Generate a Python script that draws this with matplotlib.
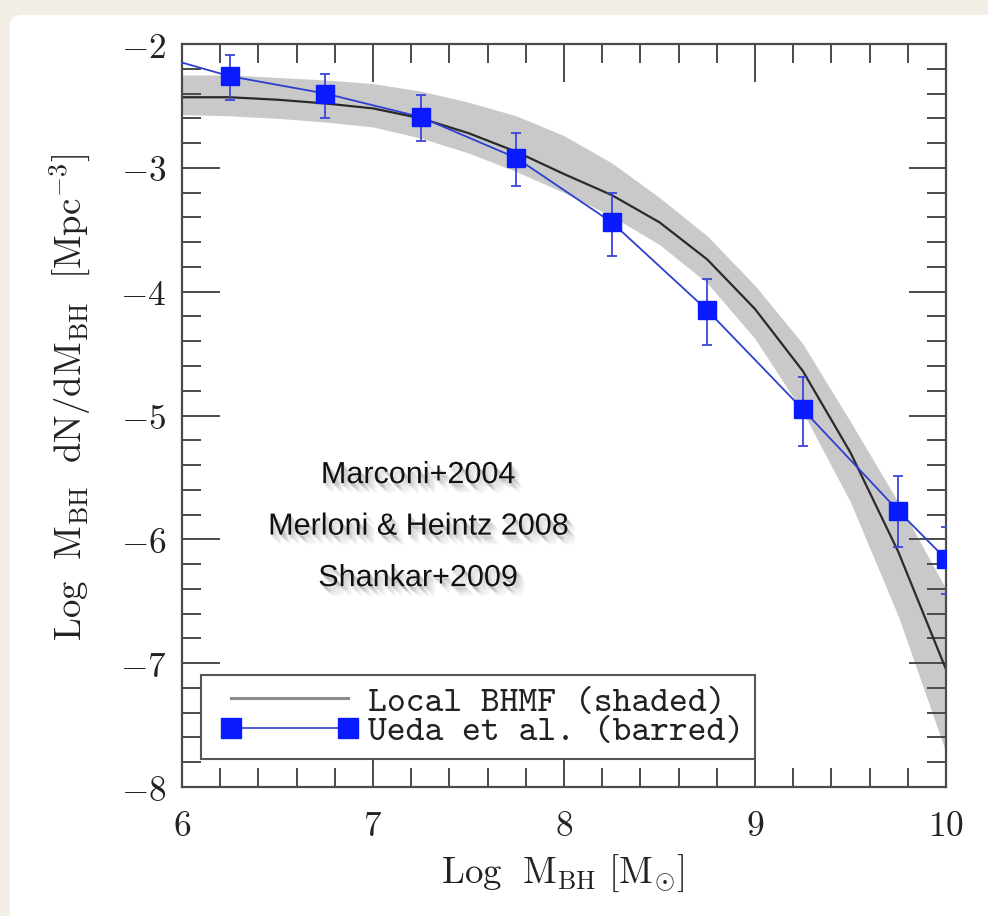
import matplotlib
matplotlib.use("Agg")
import matplotlib.pyplot as plt
import matplotlib.patheffects as pe
from matplotlib.patches import FancyBboxPatch
from matplotlib.lines import Line2D
from matplotlib.legend_handler import HandlerLine2D
from matplotlib.ticker import MultipleLocator, FuncFormatter

plt.rcParams['mathtext.fontset'] = 'cm'

# ---- data ----
# Local BHMF (black curve) and shaded uncertainty band
bhmf_logm = [6.00, 6.25, 6.50, 6.75, 7.00, 7.25, 7.50, 7.75, 8.00, 8.25, 8.50,
             8.75, 9.00, 9.25, 9.50, 9.75, 10.00]
bhmf_phi = [-2.43, -2.43, -2.45, -2.48, -2.52, -2.60, -2.72, -2.87, -3.05, -3.22,
            -3.44, -3.74, -4.14, -4.64, -5.30, -6.10, -7.05]
band_upper = [-2.25, -2.25, -2.27, -2.29, -2.32, -2.38, -2.47, -2.58, -2.74, -2.96,
              -3.24, -3.55, -3.95, -4.42, -5.05, -5.70, -6.40]
band_lower = [-2.57, -2.58, -2.60, -2.63, -2.67, -2.76, -2.88, -3.03, -3.20, -3.39,
              -3.62, -3.93, -4.38, -4.97, -5.70, -6.62, -7.72]

# Ueda et al. (barred)
ueda_logm = [5.75, 6.25, 6.75, 7.25, 7.75, 8.25, 8.75, 9.25, 9.75, 10.00]
ueda_phi = [-2.04, -2.26, -2.40, -2.59, -2.92, -3.44, -4.15, -4.95, -5.77, -6.16]
ueda_err_up = [0.17, 0.17, 0.16, 0.18, 0.20, 0.24, 0.25, 0.26, 0.28, 0.26]
ueda_err_dn = [0.19, 0.19, 0.20, 0.19, 0.23, 0.27, 0.28, 0.30, 0.29, 0.28]

x_ticks = [6, 7, 8, 9, 10]
y_ticks = [-8, -7, -6, -5, -4, -3, -2]
legend_labels = ["Local BHMF (shaded)", "Ueda et al. (barred)"]
annotation_lines = ["Marconi+2004", "Merloni & Heintz 2008", "Shankar+2009"]

# ---- figure ----
W, H = 988, 916
fig = plt.figure(figsize=(W / 100, H / 100), dpi=100)
fig.patch.set_facecolor('#f3efe7')
panel = FancyBboxPatch((10 / W, -0.05), (W + 20) / W, (H - 15) / H + 0.05,
                       boxstyle="round,pad=0,rounding_size=0.012",
                       transform=fig.transFigure, facecolor='white',
                       edgecolor='none', zorder=-10)
fig.patches.append(panel)

ax = fig.add_axes([182 / W, (H - 787) / H, (946 - 182) / W, (787 - 44) / H])
ax.set_zorder(5)
ax.set_facecolor('white')

ax.fill_between(bhmf_logm, band_lower, band_upper, color='#c9c9c9', lw=0, zorder=1)
ax.plot(bhmf_logm, bhmf_phi, color='#2a2a2a', lw=1.6, zorder=2)
ax.errorbar(ueda_logm, ueda_phi, yerr=[ueda_err_dn, ueda_err_up], fmt='none',
            ecolor='#3a46d8', elinewidth=1.3, capsize=3.5, capthick=1.3, zorder=3)
ax.plot(ueda_logm, ueda_phi, color='#2e3fd0', lw=1.3, marker='s', ms=12.5,
        mfc='#0a1aff', mec='#0a1aff', zorder=4)

ax.set_xlim(6, 10)
ax.set_ylim(-8, -2)

ax.xaxis.set_minor_locator(MultipleLocator(0.2))
ax.yaxis.set_minor_locator(MultipleLocator(0.2))
ax.set_xticks(x_ticks)
ax.set_yticks(y_ticks)
ax.xaxis.set_major_formatter(FuncFormatter(lambda v, p: r'$%d$' % v))
ax.yaxis.set_major_formatter(FuncFormatter(lambda v, p: r'$%d$' % v))

tc = '#4a4a4a'
ax.tick_params(which='both', direction='in', top=True, right=True, color=tc,
               labelsize=25.5, labelcolor='#222222')
ax.tick_params(which='major', length=27, width=1.4)
ax.tick_params(which='minor', length=13.5, width=1.4)
ax.tick_params(axis='x', which='major', pad=16)
ax.tick_params(axis='y', which='major', pad=11)
for s in ax.spines.values():
    s.set_color(tc)
    s.set_linewidth(1.6)

ax.set_xlabel(r'$\mathrm{Log\ \ M_{BH}\ [M_{\odot}]}$', fontsize=26.5, color='#222222')
ax.xaxis.set_label_coords((563 - 182) / 764, (787 - 853) / 743)
ax.set_ylabel(r'$\mathrm{Log\ \ M_{BH}\ \ dN/dM_{BH}\ \ [Mpc^{-3}]}$', fontsize=26.5,
              color='#222222')
ax.yaxis.set_label_coords((92 - 182) / 764, (787 - 397) / 743)

# legend
h1 = Line2D([], [], color='#8a8a8a', lw=2.2)
h2 = Line2D([], [], color='#2e3fd0', lw=1.2, marker='s', ms=14,
            mfc='#0a1aff', mec='#0a1aff')
hmap = {h1: HandlerLine2D(marker_pad=0.55), h2: HandlerLine2D(marker_pad=0.55)}
leg = ax.legend([h1, h2], legend_labels, loc='lower left', handler_map=hmap,
                bbox_to_anchor=(19 / 764, (787 - 759) / 743), borderaxespad=0,
                prop={'family': 'cmtt10', 'size': 25.8},
                handlelength=4.36, handletextpad=0.0, labelspacing=-0.1,
                borderpad=0.3, numpoints=2, fancybox=False, framealpha=1,
                edgecolor='#555555')
leg.get_frame().set_linewidth(1.5)
for t in leg.get_texts():
    t.set_color('#222222')

# annotation with soft shadow
shadow = [pe.SimplePatchShadow(offset=(o, -o - 1), shadow_rgbFace='black', alpha=a)
          for o, a in [(1, 0.09), (2, 0.08), (3, 0.07), (4, 0.05), (5, 0.04), (6, 0.03)]] + [pe.Normal()]
for i, line in enumerate(annotation_lines):
    ypix = 475 + 51.5 * i
    yd = -2 - (ypix - 44) / 123.8
    ax.text(7.236, yd, line, ha='center', va='center', fontsize=22,
            family='Liberation Sans', color='#111111', path_effects=shadow, zorder=6)

fig.savefig('out.png', dpi=100, facecolor=fig.get_facecolor())
